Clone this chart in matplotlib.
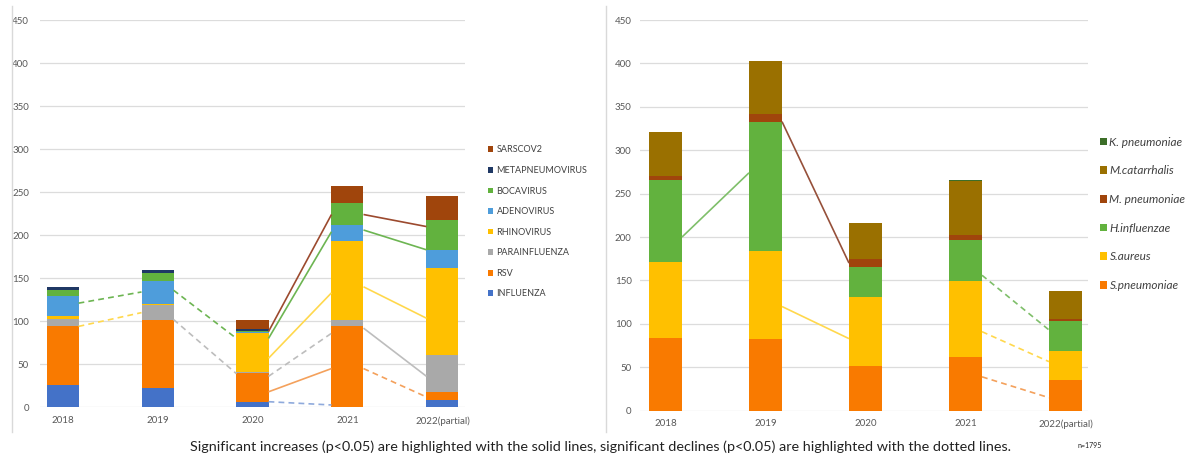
import numpy as np
import matplotlib.pyplot as plt
from matplotlib.patches import Patch
from matplotlib.lines import Line2D

years = ["2018", "2019", "2020", "2021", "2022(partial)"]

# left chart: viruses, stacked bottom -> top
viruses = ["INFLUENZA", "RSV", "PARAINFLUENZA", "RHINOVIRUS",
           "ADENOVIRUS", "BOCAVIRUS", "METAPNEUMOVIRUS", "SARSCOV2"]
influenza = [26, 23, 6.5, 0, 8]
rsv = [69, 78, 33, 95, 10]
parainfluenza = [8, 18, 1.5, 7, 43]
rhinovirus = [3, 1, 45, 91, 101]
adenovirus = [23, 27, 2, 19, 21]
bocavirus = [7, 9, 1, 25, 35]
metapneumovirus = [4, 4, 2, 0, 0]
sarscov2 = [0, 0, 10, 20, 28]

# right chart: bacteria, stacked bottom -> top
bacteria = ["S.pneumoniae", "S.aureus", "H.influenzae",
            "M. pneumoniae", "M.catarrhalis", "K. pneumoniae"]
s_pneumoniae = [84, 83, 51, 62, 35]
s_aureus = [87, 101, 80, 87, 34]
h_influenzae = [95, 149, 34, 48, 34]
m_pneumoniae = [4, 9, 10, 5, 3]
m_catarrhalis = [51, 61, 41, 62, 32]
k_pneumoniae = [0, 0, 0, 2, 0]

# significance lines between neighbouring years (start year index, value at start, value at end)
left_trend_series = ["BOCAVIRUS", "RHINOVIRUS", "BOCAVIRUS", "PARAINFLUENZA",
                     "SARSCOV2", "BOCAVIRUS", "RHINOVIRUS", "PARAINFLUENZA", "RSV", "INFLUENZA",
                     "SARSCOV2", "BOCAVIRUS", "RHINOVIRUS", "PARAINFLUENZA", "RSV"]
left_trend_from = [0, 0, 1, 1, 2, 2, 2, 2, 2, 2, 3, 3, 3, 3, 3]
left_trend_start = [121, 94, 136, 102, 88, 80, 57, 36, 18, 6.5, 224, 206, 140, 92, 45]
left_trend_end = [134, 110, 80, 39, 224, 204, 133, 86, 45, 2.7, 210, 183, 103.5, 36, 12]
left_trend_dotted = [True, True, True, True, False, False, False, True, False, True,
                     False, False, False, False, True]

right_trend_series = ["H.influenzae", "M. pneumoniae", "S.aureus",
                      "H.influenzae", "S.aureus", "S.pneumoniae"]
right_trend_from = [0, 1, 1, 3, 3, 3]
right_trend_start = [200, 333, 120, 156, 91, 39]
right_trend_end = [274, 170, 83, 93, 56.5, 15]
right_trend_dotted = [False, False, False, True, True, True]

virus_colors = ["#4472C8", "#F97A00", "#A9A9A9", "#FFC000",
                "#4E9DDB", "#62B23E", "#1F3864", "#A0450C"]
virus_line_colors = ["#8FAADC", "#F4A15C", "#BDBDBD", "#FFD84D",
                     "#8DBDE8", "#6DB552", "#3A4F7A", "#9C4A2E"]
bact_colors = ["#F97A00", "#FFC000", "#62B23E", "#A0450C", "#9A7000", "#3C6E28"]
bact_line_colors = ["#F4A15C", "#FFD84D", "#7FBF6A", "#96503A", "#9A7000", "#3C6E28"]

W, H = 1193, 458
fig = plt.figure(figsize=(W / 100, H / 100), dpi=100)
plt.rcParams['font.family'] = ['Lato', 'DejaVu Sans']

ax1 = fig.add_axes([40 / W, 1 - 407.3 / H, 425 / W, 387.3 / H])
ax2 = fig.add_axes([640 / W, 1 - 410.7 / H, 448 / W, 390.7 / H])


def stacked(ax, series, names, colors, width):
    x = np.arange(len(years))
    bottom = np.zeros(len(years))
    handles = []
    for vals, name, c in zip(series, names, colors):
        ax.bar(x, vals, width, bottom=bottom, color=c, linewidth=0, zorder=2)
        bottom += np.array(vals, dtype=float)
        handles.append(Patch(facecolor=c, label=name))
    return handles


def trends(ax, names, colors, sers, frm, y0, y1, dotted, width):
    for s, i, a, b, d in zip(sers, frm, y0, y1, dotted):
        c = colors[names.index(s)]
        ls = (0, (3.5, 2.5)) if d else "-"
        ax.plot([i + width / 2, i + 1 - width / 2], [a, b], color=c, lw=1.2,
                ls=ls, zorder=3, solid_capstyle="butt")


def style(ax, xlim, ypad, xpad):
    ax.set_xlim(*xlim)
    ax.set_ylim(0, 450)
    ax.set_yticks(np.arange(0, 451, 50))
    ax.set_xticks(np.arange(len(years)))
    ax.set_xticklabels(years)
    ax.yaxis.grid(True, color="#DCDCDC", lw=0.9, zorder=0)
    ax.set_axisbelow(True)
    for sp in ax.spines.values():
        sp.set_visible(False)
    ax.tick_params(axis="y", length=0, labelsize=7, labelcolor="#595959", pad=ypad)
    ax.tick_params(axis="x", length=0, labelsize=7, labelcolor="#595959", pad=xpad)


wl = 0.337
h1 = stacked(ax1, [influenza, rsv, parainfluenza, rhinovirus, adenovirus,
                   bocavirus, metapneumovirus, sarscov2], viruses, virus_colors, wl)
trends(ax1, viruses, virus_line_colors, left_trend_series, left_trend_from,
       left_trend_start, left_trend_end, left_trend_dotted, wl)
style(ax1, (-0.237, 4.237), 8, 6.5)

wr = 0.33
h2 = stacked(ax2, [s_pneumoniae, s_aureus, h_influenzae, m_pneumoniae,
                   m_catarrhalis, k_pneumoniae], bacteria, bact_colors, wr)
trends(ax2, bacteria, bact_line_colors, right_trend_series, right_trend_from,
       right_trend_start, right_trend_end, right_trend_dotted, wr)
style(ax2, (-0.255, 4.225), 6, 6)

fig.legend(handles=h1[::-1], loc="upper left", bbox_to_anchor=(488 / W, 1 - 145.5 / H),
           frameon=False, fontsize=6.5, handlelength=0.6, handleheight=0.6,
           handletextpad=0.35, labelspacing=1.28, borderpad=0, borderaxespad=0,
           labelcolor="#404040")
fig.legend(handles=h2[::-1], loc="upper left", bbox_to_anchor=(1100 / W, 1 - 136.5 / H),
           frameon=False, prop={"size": 8.5, "style": "italic"}, handlelength=0.6,
           handleheight=0.6, handletextpad=0.2, labelspacing=1.5, borderpad=0,
           borderaxespad=0, labelcolor="#404040")

# chart area borders
for xb in (12, 606):
    fig.add_artist(Line2D([xb / W, xb / W], [1 - 432 / H, 1 - 6 / H], color="#D9D9D9", lw=1))

fig.text(600 / W, 1 - 447 / H,
         "Significant increases (p<0.05) are highlighted with the solid lines, "
         "significant declines (p<0.05) are highlighted with the dotted lines.",
         ha="center", va="center", fontsize=10.4, color="#222222")
fig.text(1090 / W, 1 - 446 / H, "n=1795", ha="center", va="center", fontsize=5, color="#222222")

fig.savefig("out.png", dpi=100)
